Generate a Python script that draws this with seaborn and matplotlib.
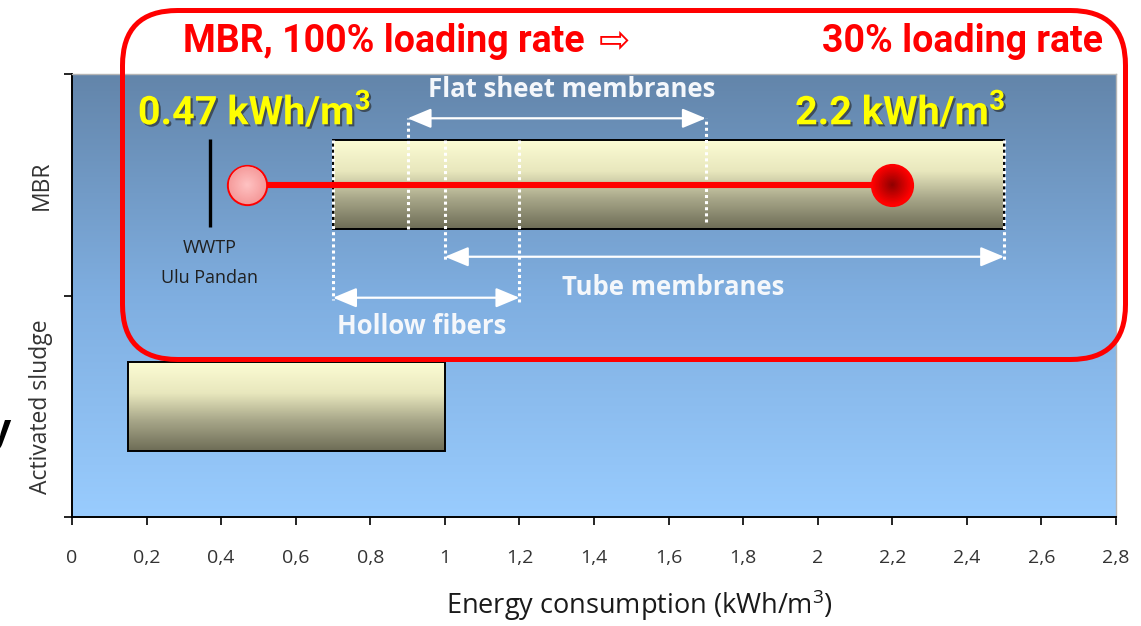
import numpy as np
import matplotlib
matplotlib.use("Agg")
import matplotlib.pyplot as plt
import seaborn as sns
from matplotlib.colors import LinearSegmentedColormap, to_rgb
from matplotlib.patches import FancyBboxPatch
import matplotlib.patheffects as pe

# ---- data -------------------------------------------------------------
categories = ["Activated sludge", "MBR"]
range_low = [0.15, 0.7]          # kWh/m3
range_high = [1.0, 2.5]          # kWh/m3

x_ticks = [0, 0.2, 0.4, 0.6, 0.8, 1.0, 1.2, 1.4, 1.6, 1.8, 2.0, 2.2, 2.4, 2.6, 2.8]
x_tick_labels = ["0", "0,2", "0,4", "0,6", "0,8", "1", "1,2", "1,4", "1,6",
                 "1,8", "2", "2,2", "2,4", "2,6", "2,8"]

mbr_full_load = 0.47             # MBR, 100 % loading rate
mbr_low_load = 2.2               # MBR, 30 % loading rate
wwtp_ulu_pandan = 0.37

hollow_fibers = [0.7, 1.2]
flat_sheet = [0.9, 1.7]
tube_membranes = [1.0, 2.5]

# ---- style ------------------------------------------------------------
sns.set_theme(style="white")
plt.rcParams["font.family"] = ["Open Sans", "DejaVu Sans"]
plt.rcParams["mathtext.default"] = "regular"
CONDENSED = ["Roboto", "Liberation Sans", "DejaVu Sans"]

W, H = 1141, 626
fig = plt.figure(figsize=(W / 100, H / 100), dpi=100)
ax = fig.add_axes([72 / W, 1 - 517 / H, (1116 - 72) / W, (517 - 74) / H])

ypos = np.arange(len(categories))
xlim = (0, 2.8)
ylim = (-0.5, len(categories) - 0.5)

# vertical blue gradient for the plotting area
grad = np.linspace(0, 1, 256).reshape(-1, 1)
bg_cmap = LinearSegmentedColormap.from_list("bg", ["#99ccfe", "#7faee0", "#6385aa"])
ax.imshow(grad, extent=[*xlim, *ylim], origin="lower", cmap=bg_cmap,
          aspect="auto", zorder=0, interpolation="bicubic")

# floating range bars with a cream-to-olive gradient fill
bars = ax.barh(ypos, np.subtract(range_high, range_low), left=range_low,
               height=0.4, facecolor="none", edgecolor="black", lw=1.4, zorder=3)
bar_cmap = LinearSegmentedColormap.from_list(
    "bar", [(0, "#6d6c56"), (0.35, "#a9a88a"), (0.65, "#e8e7bd"), (1, "#fcfcd4")])
for b in bars:
    x0, y0, w, h = b.get_x(), b.get_y(), b.get_width(), b.get_height()
    im = ax.imshow(grad, extent=[x0, x0 + w, y0, y0 + h], origin="lower",
                   cmap=bar_cmap, aspect="auto", zorder=2, interpolation="bicubic")
    im.set_clip_path(b)

mbr_y = ypos[categories.index("MBR")]
bar_top = mbr_y + 0.2

# membrane-type ranges: dotted guides and double-headed arrows
dots = dict(colors="white", linestyles=(0, (1, 1)), lw=2.2, zorder=4)
ax.vlines(hollow_fibers, bar_top, [0.48, 0.46], **dots)
ax.vlines(flat_sheet, [0.80, 0.83], 1.30, **dots)
ax.vlines(tube_membranes, bar_top, 0.65, **dots)

arrow = dict(arrowstyle="<|-|>,head_length=0.6,head_width=0.25", color="white",
             lw=1.6, mutation_scale=24, shrinkA=0, shrinkB=0)
for rng, yy in [(flat_sheet, 1.30), (tube_membranes, 0.675), (hollow_fibers, 0.49)]:
    ax.annotate("", xy=(rng[1], yy), xytext=(rng[0], yy), arrowprops=arrow, zorder=4)

label_kw = dict(color="#f4f7fb", fontsize=18.5, fontweight="bold", ha="center",
                va="center", zorder=4)
ax.text(1.34, 1.428, "Flat sheet membranes", **label_kw)
ax.text(1.613, 0.534, "Tube membranes", **label_kw)
ax.text(0.938, 0.358, "Hollow fibers", fontstretch="expanded", **label_kw)

# Ulu Pandan reference plant
ax.vlines(wwtp_ulu_pandan, 0.81, 1.207, colors="black", lw=2.4, zorder=5)
ax.text(wwtp_ulu_pandan, 0.714, "WWTP", ha="center", va="center",
        fontsize=13, color="#202020", zorder=5)
ax.text(wwtp_ulu_pandan, 0.579, "Ulu Pandan", ha="center", va="center",
        fontsize=13, color="#202020", zorder=5)

# MBR range between full and reduced loading
sns.lineplot(x=[mbr_full_load, mbr_low_load], y=[mbr_y, mbr_y], color="#ff0000",
             lw=4.4, ax=ax, zorder=6, legend=False)


def radial_marker(x, y, size, inner, outer, edge, zorder):
    """Concentric scatter layers that fake a radial gradient fill."""
    ci, co = np.array(to_rgb(inner)), np.array(to_rgb(outer))
    sns.scatterplot(x=[x], y=[y], s=size, color=outer, edgecolor=edge,
                    linewidth=1.4, ax=ax, zorder=zorder, legend=False)
    n = 14
    for i in range(1, n):
        f = 1 - i / n
        col = ci + (co - ci) * f
        sns.scatterplot(x=[x], y=[y], s=size * f ** 2, color=col, edgecolor="none",
                        linewidth=0, ax=ax, zorder=zorder + i * 0.01, legend=False)


radial_marker(mbr_full_load, mbr_y, 800, "#ffc4c4", "#f59a9a", "#ff0000", 7)
radial_marker(mbr_low_load, mbr_y, 880, "#8a0000", "#ff0000", "#ff0000", 7)

shadow = [pe.withSimplePatchShadow(offset=(1.5, -1.5), shadow_rgbFace="#222222", alpha=0.6)]
val_kw = dict(fontsize=28.5, fontweight="bold", color="#ffff00", ha="center",
              va="center", family=CONDENSED, path_effects=shadow, zorder=8)
ax.text(0.49, 1.33, f"{mbr_full_load:g} kWh/m$^3$", **val_kw)
ax.text(2.222, 1.33, f"{mbr_low_load:g} kWh/m$^3$", **val_kw)

# ---- axes -------------------------------------------------------------
ax.set_xlim(*xlim)
ax.set_ylim(*ylim)
ax.set_xticks(x_ticks, labels=x_tick_labels)
ax.set_yticks([-0.5, 0.5, 1.5], labels=[])
ax.set_yticks(ypos, labels=categories, minor=True)
ax.tick_params(axis="x", which="major", direction="out", length=6, width=1.2,
               color="black", pad=17, labelsize=14, labelcolor="#333333", bottom=True)
ax.tick_params(axis="y", which="major", direction="out", length=6, width=1.2,
               color="black", left=True)
ax.tick_params(axis="y", which="minor", length=0, pad=22, labelsize=16.5,
               labelcolor="#333333")
for lab in ax.get_yticklabels(minor=True):
    lab.set_rotation(90)
    lab.set_va("center")
    lab.set_ha("center")

for side in ["left", "bottom"]:
    ax.spines[side].set_color("black")
    ax.spines[side].set_linewidth(1.4)
for side in ["top", "right"]:
    ax.spines[side].set_color("#b5b5b5")
    ax.spines[side].set_linewidth(1.0)

ax.set_xlabel("Energy consumption (kWh/m$^3$)", fontsize=19.5, color="#1a1a1a")
ax.xaxis.set_label_coords((640 - 72) / (1116 - 72), (517 - 605) / (517 - 74))
ax.xaxis.label.set_va("center")

# ---- figure-level annotations -----------------------------------------
head_kw = dict(fontsize=27, fontweight="bold", color="#ff0000", va="center",
               family=CONDENSED)
fig.text(183 / W, 1 - 42 / H, "MBR, 100% loading rate", ha="left", **head_kw)
fig.text(630 / W, 1 - 42 / H, "⇨", ha="right", fontsize=27, color="#ff0000",
         va="center", family=["DejaVu Sans"])
fig.text(1103 / W, 1 - 42 / H, "30% loading rate", ha="right", **head_kw)

fig.text(11 / W, 1 - 442 / H, "y", ha="right", va="baseline", fontsize=28,
         fontweight="bold", color="black")

frame = FancyBboxPatch((122.5 / 100, (H - 359.5) / 100), (1125.5 - 122.5) / 100,
                       (359.5 - 10.5) / 100,
                       boxstyle="round,pad=0,rounding_size=0.55",
                       transform=fig.dpi_scale_trans, fill=False,
                       edgecolor="#ff0000", lw=3.6, zorder=20, clip_on=False)
fig.add_artist(frame)

fig.savefig("out.png", dpi=100)
